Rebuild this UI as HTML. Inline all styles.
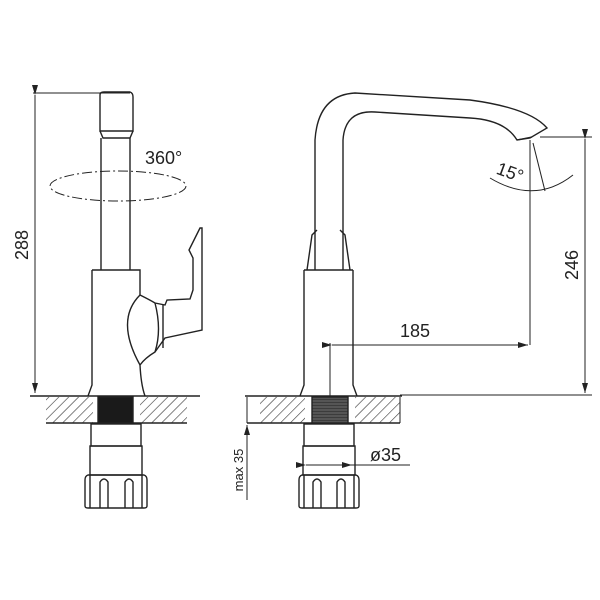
<!DOCTYPE html>
<html><head><meta charset="utf-8"><style>body{margin:0;background:#fff}svg{display:block}</style></head><body>
<svg width="600" height="600" viewBox="0 0 600 600" xmlns="http://www.w3.org/2000/svg" font-family="Liberation Sans, sans-serif">
<defs>
<pattern id="h" width="7" height="7" patternUnits="userSpaceOnUse" patternTransform="rotate(45)"><line x1="0" y1="0" x2="0" y2="7" stroke="#333" stroke-width="1.2"/></pattern>
<pattern id="d" width="3" height="3" patternUnits="userSpaceOnUse"><rect width="3" height="3" fill="#555"/><line x1="0" y1="0" x2="3" y2="0" stroke="#222"/></pattern>
<marker id="a" markerWidth="10" markerHeight="6" refX="10" refY="3" orient="auto"><path d="M0,0 L10,3 L0,6 z" fill="#222"/></marker>
</defs>
<g fill="none" stroke="#222" stroke-width="1.4">
<!-- LEFT VIEW -->
<line x1="33" y1="93" x2="130" y2="93" stroke-width="1"/>
<line x1="35" y1="95" x2="35" y2="393" stroke-width="1" marker-start="url(#a)" marker-end="url(#a)"/>
<path d="M100,95 Q100,92 104,92 L130,92 Q133,93 133,97 L133,131 L100,131 Z"/>
<path d="M100,131 L103,138 L130,138 L133,131"/>
<line x1="101" y1="138" x2="101" y2="270"/><line x1="130" y1="138" x2="130" y2="270"/>
<ellipse cx="118" cy="186" rx="68" ry="15" stroke-dasharray="10,3,2,3" stroke-width="1"/>
<path d="M92,270 L140,270 L140,295 Q150,300 155,303 L165,305 L167,300 L190,299 L193,290 L193,258 L189,250 L200,228 L202,228 L202,330 L165,338 L155,352 Q145,358 140,365 Q141,385 145,396 M92,270 L92,385 L88,396"/>
<path d="M140,295 Q115,320 140,365"/>
<path d="M155,303 Q162,330 155,352"/><line x1="163" y1="305" x2="163" y2="348"/>
<line x1="30" y1="396" x2="200" y2="396"/>
<rect x="46" y="397" width="47" height="26" fill="url(#h)" stroke="none"/>
<rect x="140" y="397" width="47" height="26" fill="url(#h)" stroke="none"/>
<line x1="46" y1="423" x2="187" y2="423"/>
<rect x="98" y="397" width="35" height="26" fill="#1a1a1a"/>
<rect x="91" y="424" width="50" height="22"/>
<rect x="90" y="446" width="52" height="29"/>
<path d="M88,475 L144,475 Q147,476 147,480 L147,506 Q147,508 144,508 L88,508 Q85,508 85,506 L85,480 Q85,476 88,475 Z"/>
<path d="M90,475 L90,508 M142,475 L142,508 M100,508 L100,482 Q104,476 108,482 L108,508 M125,508 L125,482 Q129,476 133,482 L133,508"/>
<!-- RIGHT VIEW -->
<path d="M304,270 L304,385 L300,396 M353,270 L353,385 L357,396"/>
<line x1="304" y1="270" x2="353" y2="270"/>
<path d="M307,270 L312,235 L317,230 M350,270 L345,235 L340,230"/>
<path d="M315,270 L315,140 Q318,95 355,93 L470,100 Q530,108 547,128 L530,138 L517,140 Q505,120 470,118 L375,112 Q345,110 343,140 L343,270"/>
<line x1="517" y1="140" x2="532" y2="137"/>
<line x1="540" y1="137" x2="592" y2="137" stroke-width="1"/>
<line x1="585" y1="139" x2="585" y2="393" stroke-width="1" marker-start="url(#a)" marker-end="url(#a)"/>
<line x1="530" y1="140" x2="530" y2="345" stroke-width="1"/>
<line x1="533" y1="143" x2="545" y2="191" stroke-width="1"/>
<path d="M490,178 Q535,205 573,175" stroke-width="1"/>
<line x1="332" y1="345" x2="528" y2="345" stroke-width="1" marker-start="url(#a)" marker-end="url(#a)"/>
<line x1="330" y1="343" x2="330" y2="396" stroke-width="1"/>
<line x1="400" y1="395" x2="592" y2="395" stroke-width="1"/>
<line x1="245" y1="396" x2="402" y2="396"/>
<rect x="260" y="397" width="45" height="26" fill="url(#h)" stroke="none"/>
<rect x="355" y="397" width="45" height="26" fill="url(#h)" stroke="none"/>
<line x1="247" y1="397" x2="247" y2="423" stroke-width="1"/><line x1="400" y1="397" x2="400" y2="423" stroke-width="1"/>
<line x1="247" y1="423" x2="400" y2="423"/>
<rect x="312" y="397" width="36" height="26" fill="url(#d)"/>
<line x1="247" y1="500" x2="247" y2="425" stroke-width="1" marker-end="url(#a)"/>
<rect x="304" y="424" width="50" height="22"/>
<rect x="303" y="446" width="52" height="29"/>
<line x1="306" y1="465" x2="352" y2="465" stroke-width="1" marker-start="url(#a)" marker-end="url(#a)"/>
<line x1="352" y1="465" x2="410" y2="465" stroke-width="1"/>
<path d="M302,475 L356,475 Q359,476 359,480 L359,506 Q359,508 356,508 L302,508 Q299,508 299,506 L299,480 Q299,476 302,475 Z"/>
<path d="M304,475 L304,508 M354,475 L354,508 M313,508 L313,482 Q317,476 321,482 L321,508 M337,508 L337,482 Q341,476 345,482 L345,508"/>
</g>
<g fill="#222" font-size="18">
<text x="145" y="164">360°</text>
<text transform="translate(28,245) rotate(-90)" text-anchor="middle">288</text>
<text transform="translate(578,265) rotate(-90)" text-anchor="middle">246</text>
<text x="415" y="337" text-anchor="middle">185</text>
<text transform="translate(508,178) rotate(20)" text-anchor="middle">15°</text>
<text x="370" y="461">ø35</text>
<text transform="translate(243,470) rotate(-90)" text-anchor="middle" font-size="13">max 35</text>
</g>
</svg>
</body></html>
